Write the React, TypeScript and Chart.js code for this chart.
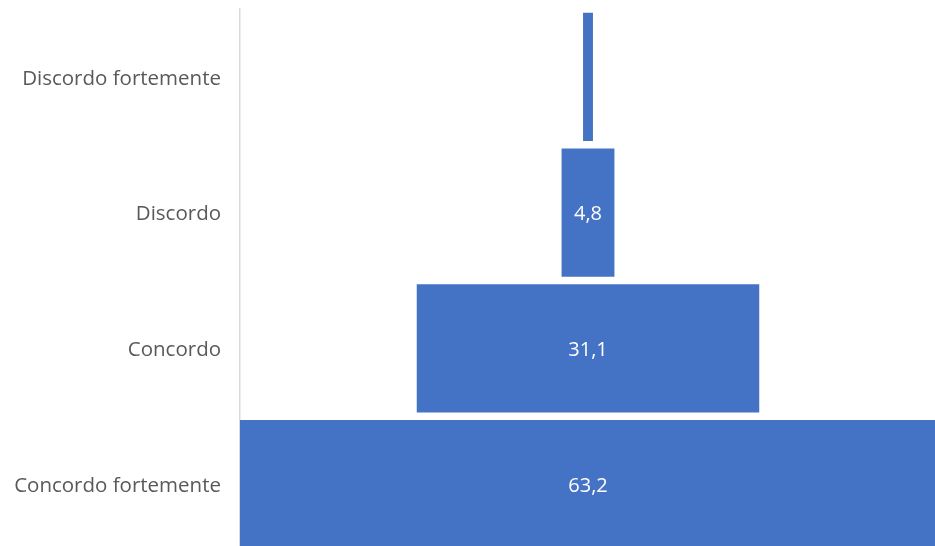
import React, { useEffect, useRef } from "react";
import { Chart, registerables } from "chart.js";

Chart.register(...registerables);

// Survey answers, drawn as a centred funnel
const categories = ["Discordo fortemente", "Discordo", "Concordo", "Concordo fortemente"];
const shares = [0.9, 4.8, 31.1, 63.2];
const showValue = [false, true, true, true];

const maxShare = Math.max(...shares);
const centre = maxShare / 2;
const fmt = (v: number) => v.toFixed(1).replace(".", ",");

const valueLabels = {
  id: "valueLabels",
  afterDatasetsDraw(chart: any) {
    const { ctx } = chart;
    const meta = chart.getDatasetMeta(0);
    ctx.save();
    ctx.fillStyle = "#ffffff";
    ctx.font = '20px "Open Sans", sans-serif';
    ctx.textAlign = "center";
    ctx.textBaseline = "middle";
    meta.data.forEach((bar: any, i: number) => {
      if (!showValue[i]) return;
      const { x, y, base } = bar.getProps(["x", "y", "base"], true);
      ctx.fillText(fmt(shares[i]), (x + base) / 2, y + 2);
    });
    ctx.restore();
  },
};

export default function App() {
  const ref = useRef<HTMLCanvasElement | null>(null);

  useEffect(() => {
    if (!ref.current) return;
    const chart = new Chart(ref.current, {
      type: "bar",
      data: {
        labels: categories,
        datasets: [
          {
            data: shares.map((v) => [centre - v / 2, centre + v / 2]) as any,
            backgroundColor: "#4472c4",
            borderWidth: 0,
            categoryPercentage: 1,
            barPercentage: 0.945,
          },
        ],
      },
      options: {
        indexAxis: "y",
        responsive: false,
        animation: false,
        layout: { padding: { top: 9, right: 0, bottom: 0, left: 0 } },
        plugins: { legend: { display: false }, tooltip: { enabled: false } },
        scales: {
          x: { display: false, min: 0, max: maxShare },
          y: {
            afterFit(scale: any) {
              scale.width = 240;
              scale.paddingTop = 0;
              scale.paddingBottom = 0;
            },
            grid: { display: false, drawTicks: false },
            border: { display: true, color: "#d9d9d9", width: 1.5 },
            ticks: {
              color: "#595959",
              padding: 19,
              labelOffset: 2,
              font: { family: '"Open Sans", sans-serif', size: 20.5 },
            },
          },
        },
      },
      plugins: [valueLabels],
    });
    return () => chart.destroy();
  }, []);

  return (
    <div style={{ position: "fixed", left: 0, top: 0, background: "#fff" }}>
      <canvas ref={ref} width={936} height={552} style={{ display: "block" }} />
    </div>
  );
}
